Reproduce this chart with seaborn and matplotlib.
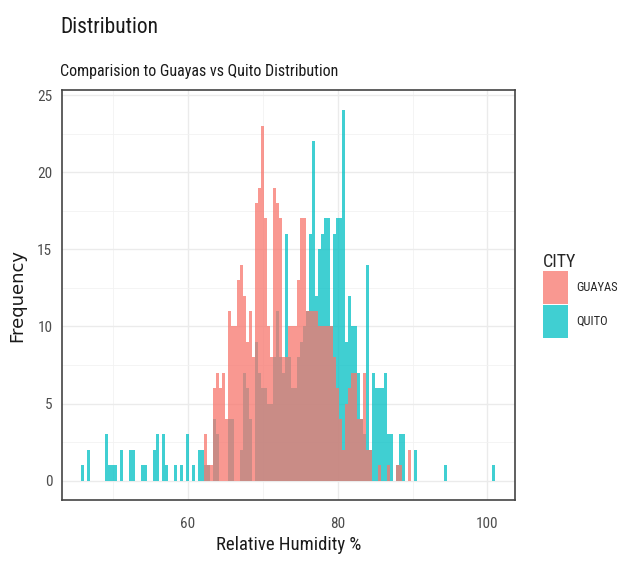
import numpy as np
import pandas as pd
import matplotlib
matplotlib.use('Agg')
import matplotlib.pyplot as plt
import seaborn as sns

# ── Data (bin centres on a 0.4 grid, counts) ──────────────────────────────────
guayas_rh = [62.4, 62.8, 63.2, 63.6, 64.0, 64.4, 64.8, 65.2, 65.6, 66.0,
             66.4, 66.8, 67.2, 67.6, 68.0, 68.4, 68.8, 69.2, 69.6, 70.0,
             70.4, 70.8, 71.2, 71.6, 72.0, 72.4, 72.8, 73.2, 73.6, 74.0,
             74.4, 74.8, 75.2, 75.6, 76.0, 76.4, 76.8, 77.2, 77.6, 78.0,
             78.4, 78.8, 79.2, 79.6, 80.0, 80.4, 80.8, 81.2, 81.6, 82.0,
             82.4, 82.8, 83.2, 83.6, 84.0, 84.4, 85.6, 86.8, 88.0, 88.4,
             89.6]
guayas_n = [3, 1, 1, 6, 7, 6, 7, 4, 11, 10,
            10, 13, 14, 12, 9, 11, 8, 18, 19, 23,
            17, 10, 8, 19, 18, 17, 8, 8, 10, 10,
            10, 13, 17, 17, 11, 11, 11, 11, 10, 10,
            10, 10, 10, 8, 6, 4, 2, 5, 6, 7,
            7, 4, 4, 7, 2, 2, 1, 1, 1, 1,
            2]

quito_rh = [46.0, 46.8, 49.2, 49.6, 50.0, 50.4, 51.2, 52.4, 52.8, 54.0,
            54.4, 55.6, 56.0, 56.8, 57.2, 58.4, 59.2, 60.0, 60.8, 61.6,
            62.0, 62.4, 62.8, 63.6, 64.0, 65.6, 66.0, 67.2, 67.6, 68.0,
            68.4, 69.2, 69.6, 70.0, 70.4, 70.8, 71.2, 71.6, 72.0, 72.4,
            72.8, 73.2, 73.6, 74.0, 74.4, 74.8, 75.2, 75.6, 76.0, 76.4,
            76.8, 77.2, 77.6, 78.0, 78.4, 78.8, 79.2, 79.6, 80.0, 80.4,
            80.8, 81.2, 81.6, 82.0, 82.4, 82.8, 83.2, 83.6, 84.0, 84.4,
            84.8, 85.2, 85.6, 86.0, 86.4, 86.8, 87.2, 88.0, 88.4, 88.8,
            90.4, 94.4, 100.8]
quito_n = [1, 2, 3, 1, 1, 1, 2, 2, 2, 1,
           1, 2, 3, 3, 1, 1, 1, 3, 1, 2,
           2, 1, 1, 4, 3, 4, 4, 2, 7, 6,
           4, 9, 7, 6, 6, 5, 5, 8, 11, 8,
           7, 16, 8, 6, 6, 8, 9, 10, 11, 16,
           22, 12, 15, 16, 17, 17, 10, 16, 17, 17,
           24, 9, 12, 10, 10, 7, 4, 3, 14, 2,
           7, 6, 6, 6, 7, 3, 3, 1, 3, 3,
           2, 1, 1]

df = pd.concat([
    pd.DataFrame({'rh': guayas_rh, 'n': guayas_n, 'CITY': 'GUAYAS'}),
    pd.DataFrame({'rh': quito_rh, 'n': quito_n, 'CITY': 'QUITO'}),
], ignore_index=True)

# ── Plot ─────────────────────────────────────────────────────────────────────
sns.set_style('whitegrid')
plt.rcParams['font.family'] = ['Roboto Condensed', 'DejaVu Sans']

fig = plt.figure(figsize=(6.36, 5.65), dpi=100)
ax = fig.add_axes([0.0975, 0.115, 0.7125, 0.725])

sns.histplot(data=df, x='rh', weights='n', hue='CITY', hue_order=['GUAYAS', 'QUITO'],
             binwidth=0.4, binrange=(45.8, 101.0), multiple='layer', element='bars',
             alpha=0.75, linewidth=0, palette=['#F8766D', '#00BFC4'], ax=ax)

ax.set_xlim(43.2, 103.7)
ax.set_ylim(-1.25, 25.3)
ax.set_xticks([60, 80, 100])
ax.set_xticks([50, 70, 90], minor=True)
ax.set_yticks([0, 5, 10, 15, 20, 25])
ax.set_yticks([2.5, 7.5, 12.5, 17.5, 22.5], minor=True)
ax.grid(which='major', color='#EBEBEB', linewidth=1.0)
ax.grid(which='minor', color='#F2F2F2', linewidth=0.6)
ax.set_axisbelow(True)
for s in ax.spines.values():
    s.set_color('#444444')
    s.set_linewidth(1.2)
ax.tick_params(which='major', length=3, width=0.8, color='#444444',
               labelsize=11, labelcolor='#4D4D4D')
ax.tick_params(axis='x', pad=9)
ax.tick_params(axis='y', pad=4)
ax.tick_params(which='minor', length=0)

ax.set_xlabel('Relative Humidity %', fontsize=13.5, color='#1A1A1A', labelpad=4)
ax.set_ylabel('Frequency', fontsize=13, color='#1A1A1A', labelpad=8,
              family='DejaVu Sans')

fig.text(0.095, 0.942, 'Distribution', fontsize=15.5, color='#1A1A1A', va='baseline')
fig.text(0.095, 0.866, 'Comparision to Guayas vs Quito Distribution', fontsize=11.5,
         color='#1A1A1A', va='baseline')

sns.move_legend(ax, 'upper left', bbox_to_anchor=(0.853, 0.552),
                bbox_transform=fig.transFigure, frameon=False,
                title='CITY', fontsize=9, title_fontsize=13,
                handlelength=2.0, handleheight=3.7, handletextpad=0.7,
                labelspacing=0.02, alignment='left', borderpad=0, borderaxespad=0)

plt.savefig('out.png', dpi=100)
plt.close()
